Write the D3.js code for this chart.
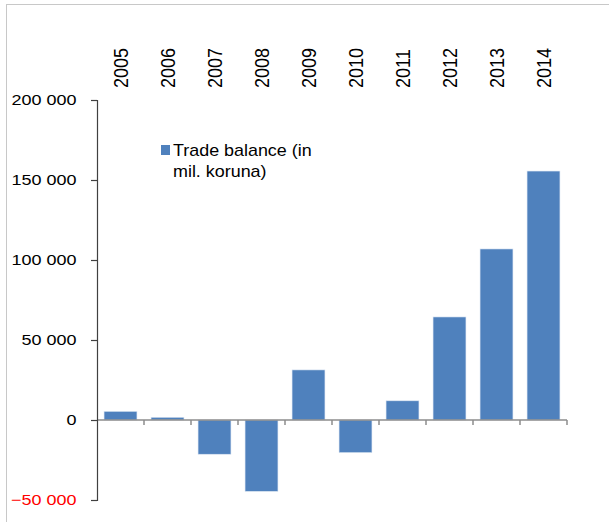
<!DOCTYPE html>
<html>
<head>
<meta charset="utf-8">
<script src="https://cdn.jsdelivr.net/npm/d3@7"></script>
<style>
  body { margin: 0; background: #fff; }
  text { font-family: Arial, "Liberation Sans", sans-serif; }
</style>
</head>
<body>
<div id="chart"></div>
<script>
// data
const years = ['2005', '2006', '2007', '2008', '2009', '2010', '2011', '2012', '2013', '2014'];
const tradeBalance = [5400, 1700, -21400, -44600, 31300, -20400, 12000, 64400, 106900, 155600];
const yTicks = [-50000, 0, 50000, 100000, 150000, 200000];
const seriesName = ['Trade balance (in', 'mil. koruna)'];

const width = 609;
const height = 522;
const stretch = 1.2; // the text in the picture is a bit wider than normal Arial

const svg = d3.select('#chart')
  .append('svg')
  .attr('width', width)
  .attr('height', height);

// frame
svg.append('rect')
  .attr('x', 6.5).attr('y', 4.5)
  .attr('width', 620).attr('height', 540)
  .attr('fill', 'none')
  .attr('stroke', '#c8c8c8');

const x = d3.scaleBand()
  .domain(years)
  .range([97, 567])
  .paddingInner(0.3)
  .paddingOuter(0.15);

const y = d3.scaleLinear()
  .domain([-50000, 200000])
  .range([500, 100]);

// bars
svg.selectAll('.bar')
  .data(years)
  .enter().append('rect')
  .attr('class', 'bar')
  .attr('x', d => x(d))
  .attr('width', x.bandwidth())
  .attr('y', (d, i) => y(Math.max(0, tradeBalance[i])))
  .attr('height', (d, i) => Math.abs(y(tradeBalance[i]) - y(0)))
  .attr('fill', '#4f81bd')
  .attr('stroke', '#dce6f2')
  .attr('stroke-width', 0.6);

// zero line
svg.append('line')
  .attr('x1', 97).attr('x2', 567)
  .attr('y1', y(0)).attr('y2', y(0))
  .attr('stroke', '#8c8c8c')
  .attr('stroke-width', 1.5);

// ticks between categories
const edge = d => x(d) + x.bandwidth() + x.step() * x.paddingInner() / 2;
svg.append('g')
  .selectAll('line')
  .data(years)
  .enter().append('line')
  .attr('x1', edge)
  .attr('x2', edge)
  .attr('y1', y(0))
  .attr('y2', y(0) + 5)
  .attr('stroke', '#8c8c8c')
  .attr('stroke-width', 1.5);

// year labels at top
svg.append('g')
  .selectAll('text')
  .data(years)
  .enter().append('text')
  .attr('transform', d => `translate(${x(d) + x.bandwidth() / 2}, 88) rotate(-90) scale(1, 1.13)`)
  .attr('dy', '0.36em')
  .attr('font-size', 18)
  .attr('fill', '#000')
  .text(d => d);

// y axis
const yAxis = d3.axisLeft(y)
  .tickValues(yTicks)
  .tickSize(6)
  .tickFormat(d => d3.format(',')(d).replace(/,/g, ' '));
const gy = svg.append('g')
  .attr('transform', 'translate(97, 0)')
  .call(yAxis);
gy.select('.domain').attr('stroke', '#404040').attr('stroke-width', 1.2);
gy.selectAll('.tick line').attr('stroke', '#404040').attr('stroke-width', 1.2);
gy.selectAll('.tick text')
  .attr('x', -20.5 / stretch)
  .attr('transform', `scale(${stretch}, 1)`)
  .attr('font-size', 15)
  .attr('font-family', 'Arial, "Liberation Sans", sans-serif')
  .attr('fill', d => d < 0 ? '#ff0000' : '#000');

// legend
const legend = svg.append('g').attr('transform', 'translate(161, 145)');
legend.append('rect')
  .attr('width', 9).attr('height', 10)
  .attr('fill', '#4f81bd');
legend.selectAll('text')
  .data(seriesName)
  .enter().append('text')
  .attr('x', 12 / 1.12)
  .attr('y', (d, i) => 11 + i * 21)
  .attr('transform', 'scale(1.12, 1)')
  .attr('font-size', 16)
  .attr('fill', '#000')
  .text(d => d);
</script>
</body>
</html>
